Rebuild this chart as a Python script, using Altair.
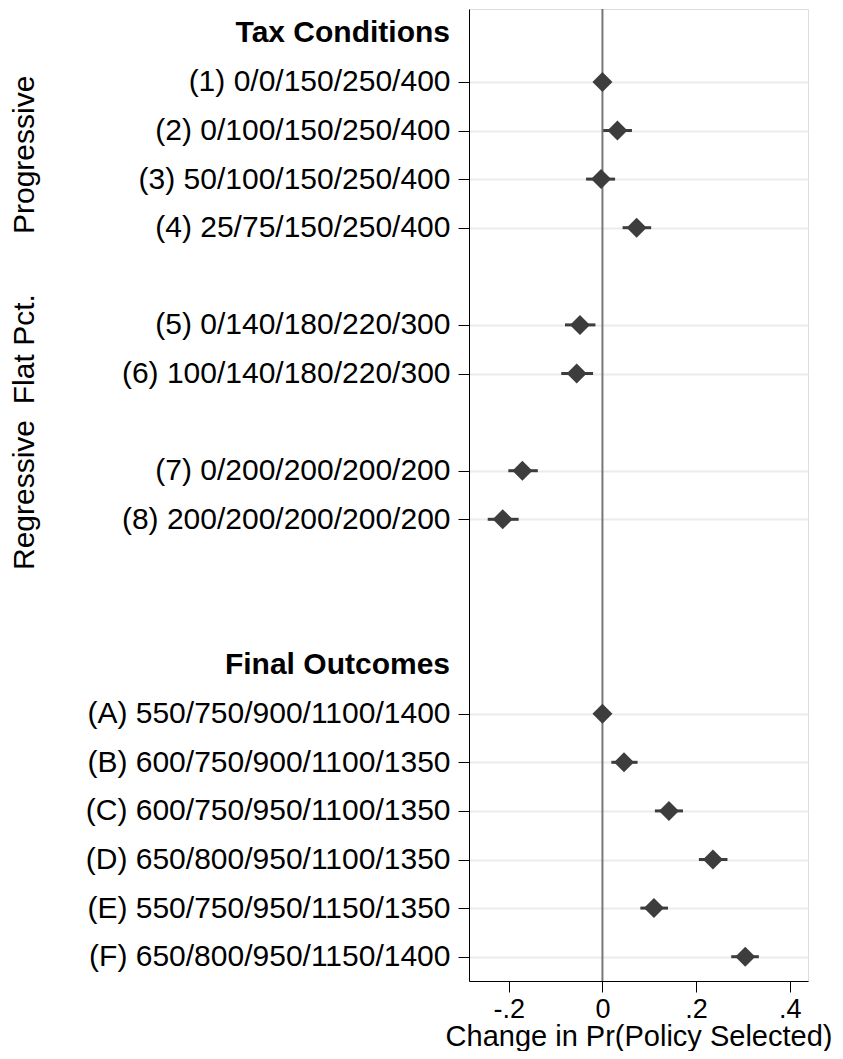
import altair as alt
import pandas as pd

# ---- data ----
labels = [
    "(1) 0/0/150/250/400", "(2) 0/100/150/250/400", "(3) 50/100/150/250/400",
    "(4) 25/75/150/250/400", "(5) 0/140/180/220/300", "(6) 100/140/180/220/300",
    "(7) 0/200/200/200/200", "(8) 200/200/200/200/200",
    "(A) 550/750/900/1100/1400", "(B) 600/750/900/1100/1350", "(C) 600/750/950/1100/1350",
    "(D) 650/800/950/1100/1350", "(E) 550/750/950/1150/1350", "(F) 650/800/950/1150/1400",
]
rows = [1, 2, 3, 4, 6, 7, 9, 10, 14, 15, 16, 17, 18, 19]
groups = ["Progressive"] * 4 + ["Flat Pct."] * 2 + ["Regressive"] * 2 + [""] * 6
estimates = [0.0, 0.032, -0.003, 0.073, -0.048, -0.055, -0.171, -0.213,
             0.0, 0.046, 0.142, 0.236, 0.110, 0.305]
ci_low = [0.0, 0.0, -0.035, 0.043, -0.080, -0.088, -0.201, -0.245,
          0.0, 0.019, 0.112, 0.206, 0.081, 0.275]
ci_high = [0.0, 0.063, 0.027, 0.104, -0.015, -0.020, -0.138, -0.179,
           0.0, 0.075, 0.172, 0.267, 0.140, 0.334]
headers = ["Tax Conditions", "Final Outcomes"]
header_rows = [0, 13]
x_ticks = [-0.2, 0, 0.2, 0.4]
x_tick_labels = ["-.2", "0", ".2", ".4"]
zero_line = [0]

FONT = "Liberation Sans"
DARK = "#3d3d3d"

df = pd.DataFrame({"label": labels, "row": rows, "group": groups,
                   "est": estimates, "lo": ci_low, "hi": ci_high})
hdr = pd.DataFrame({"label": headers, "row": header_rows})
zdf = pd.DataFrame({"v": zero_line})

ylabel_expr = " : ".join(
    [f"datum.value == {r} ? '{l}'" for r, l in zip(rows, labels)] + ["''"])
xlabel_expr = " : ".join(
    [f"datum.value == {v} ? '{l}'" for v, l in zip(x_ticks, x_tick_labels)] + ["''"])

x_scale = alt.Scale(domain=[-0.285, 0.439], nice=False, zero=False)
y_scale = alt.Scale(domain=[-0.5, 19.5], reverse=True, nice=False, zero=False)

x_axis = alt.Axis(values=x_ticks, labelExpr=xlabel_expr, grid=False, tickSize=11,
                  tickColor="black", domainColor="black", labelFontSize=27,
                  labelColor="black", labelPadding=4, labelFont=FONT,
                  title="Change in Pr(Policy Selected)", titleFontSize=29,
                  titleFontWeight="normal", titleColor="black", titleFont=FONT,
                  titlePadding=0)
y_axis = alt.Axis(values=rows, labelExpr=ylabel_expr, grid=True, gridColor="#ebebeb",
                  gridWidth=2, tickSize=11, tickColor="black", domainColor="black",
                  labelFontSize=30, labelColor="black", labelPadding=8, labelLimit=600,
                  labelFont=FONT, title=None)

base = alt.Chart(df)

ci = base.mark_rule(color=DARK, strokeWidth=3).encode(
    x=alt.X("lo:Q", scale=x_scale, axis=x_axis),
    x2="hi:Q",
    y=alt.Y("row:Q", scale=y_scale, axis=y_axis),
)

zero = alt.Chart(zdf).mark_rule(color="#777777", strokeWidth=2).encode(
    x=alt.X("v:Q", scale=x_scale),
)

pts = base.mark_point(shape="diamond", filled=True, size=400, color=DARK, opacity=1).encode(
    x=alt.X("est:Q", scale=x_scale),
    y=alt.Y("row:Q", scale=y_scale),
)

head = alt.Chart(hdr).mark_text(align="right", baseline="middle", fontSize=30,
                                fontWeight="bold", font=FONT, color="black").encode(
    x=alt.value(-19),
    y=alt.Y("row:Q", scale=y_scale),
    text="label:N",
)

grp = base.transform_filter("datum.group != ''").transform_aggregate(
    row="mean(row)", groupby=["group"]
).mark_text(angle=270, align="center", baseline="middle", fontSize=30,
            font=FONT, color="black").encode(
    x=alt.value(-444),
    y=alt.Y("row:Q", scale=y_scale),
    text="group:N",
)

chart = alt.layer(ci, zero, pts, head, grp).properties(
    width=339, height=972,
    autosize=alt.AutoSizeParams(type="none"),
    padding={"left": 461, "top": 1, "right": 27, "bottom": 70},
).configure_view(stroke=None).configure(font=FONT)

chart.save("out.html", embed_options={"renderer": "svg", "actions": False})
